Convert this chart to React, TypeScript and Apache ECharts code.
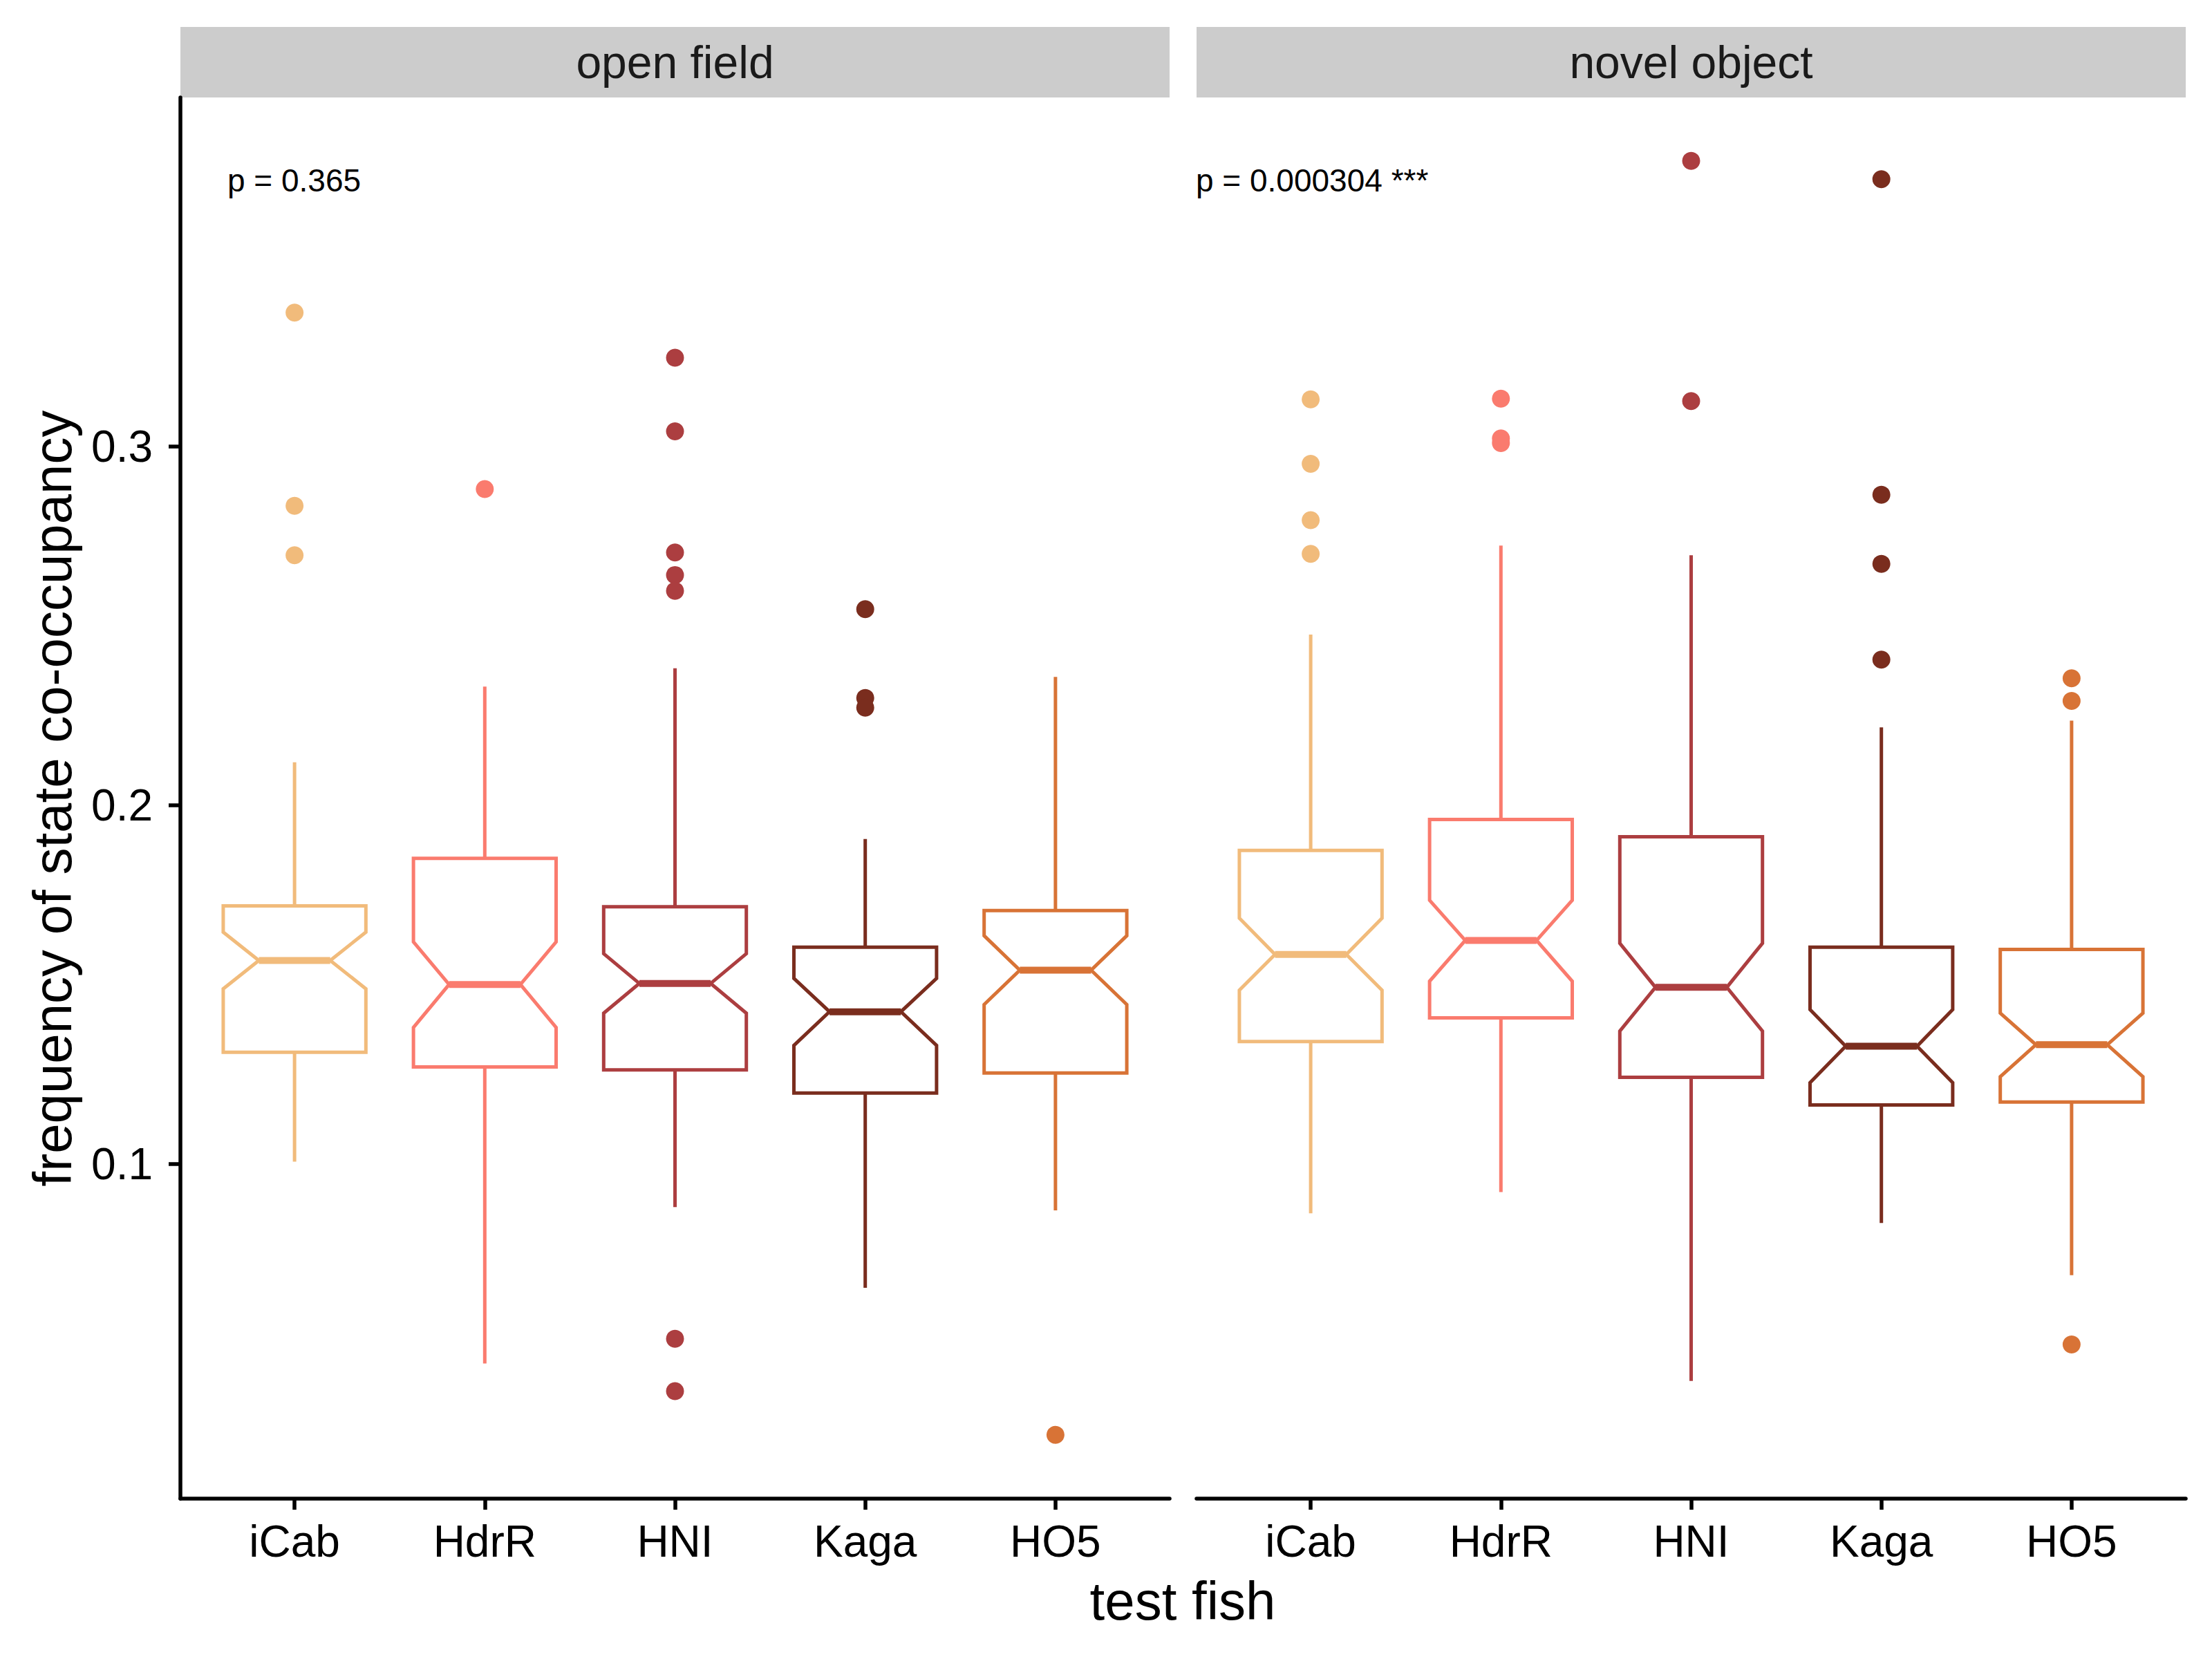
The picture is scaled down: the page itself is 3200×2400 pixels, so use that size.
import React, { useEffect, useRef } from 'react';
import * as echarts from 'echarts';

// ---------- data ----------
const categories = ['iCab', 'HdrR', 'HNI', 'Kaga', 'HO5'];
const colors = ['#F1BB7B', '#FA7B6E', '#AC3E40', '#7A2D1E', '#D87336'];
const panelTitles = ['open field', 'novel object'];
const pValueLabels = ['p = 0.365', 'p = 0.000304 ***'];
const yTickValues = [0.1, 0.2, 0.3];
const xTickValues = [1, 2, 3, 4, 5];

// open field
const openWhiskerLow = [0.1006, 0.0443, 0.0879, 0.0654, 0.0870];
const openQ1 = [0.1311, 0.1270, 0.1262, 0.1197, 0.1253];
const openNotchLow = [0.1488, 0.1380, 0.1420, 0.1330, 0.1444];
const openMedian = [0.1567, 0.1500, 0.1503, 0.1424, 0.1540];
const openNotchHigh = [0.1646, 0.1619, 0.1586, 0.1517, 0.1636];
const openQ3 = [0.1719, 0.1852, 0.1717, 0.1604, 0.1706];
const openWhiskerHigh = [0.2120, 0.2331, 0.2382, 0.1906, 0.2358];
const openOutliers = [
  [0.3374, 0.2835, 0.2697],
  [0.2882],
  [0.3248, 0.3043, 0.2705, 0.2642, 0.2598, 0.0512, 0.0366],
  [0.2547, 0.2299, 0.2272],
  [0.0244],
];

// novel object
const novelWhiskerLow = [0.0862, 0.0921, 0.0394, 0.0835, 0.0689];
const novelQ1 = [0.1341, 0.1407, 0.1241, 0.1164, 0.1172];
const novelNotchLow = [0.1484, 0.1509, 0.1370, 0.1226, 0.1243];
const novelMedian = [0.1584, 0.1623, 0.1492, 0.1328, 0.1332];
const novelNotchHigh = [0.1685, 0.1735, 0.1615, 0.1430, 0.1420];
const novelQ3 = [0.1874, 0.1960, 0.1912, 0.1604, 0.1598];
const novelWhiskerHigh = [0.2476, 0.2724, 0.2697, 0.2217, 0.2236];
const novelOutliers = [
  [0.3132, 0.2952, 0.2795, 0.2701],
  [0.3134, 0.3023, 0.3010],
  [0.3797, 0.3127],
  [0.3746, 0.2866, 0.2673, 0.2406],
  [0.2354, 0.2291, 0.0496],
];

// ---------- layout ----------
const FONT = '"Liberation Sans", Arial, Helvetica, sans-serif';
const Y_MIN = 0.0066;
const Y_MAX = 0.3974;
const GRIDS = [
  { left: 261, top: 141, width: 1431, height: 2027 },
  { left: 1731, top: 141, width: 1431, height: 2027 },
];
const STRIP_TOP = 39;
const STRIP_H = 102;
const BOX_HALF = 0.375;
const NOTCH_HALF = 0.1875;
const LW = 5;

function boxData(wLo: number[], q1: number[], nLo: number[], med: number[], nHi: number[], q3: number[], wHi: number[]) {
  return categories.map((_, i) => [i + 1, wLo[i], q1[i], nLo[i], med[i], nHi[i], q3[i], wHi[i]]);
}

function outlierData(out: number[][]) {
  const d: any[] = [];
  out.forEach((arr, i) =>
    arr.forEach((v) => d.push({ value: [i + 1, v], itemStyle: { color: colors[i], opacity: 1 } }))
  );
  return d;
}

function renderBox(params: any, api: any) {
  const x = api.value(0);
  const wLo = api.value(1);
  const q1 = api.value(2);
  const nLo = api.value(3);
  const med = api.value(4);
  const nHi = api.value(5);
  const q3 = api.value(6);
  const wHi = api.value(7);
  const color = colors[params.dataIndex];
  const p = (dx: number, v: number) => api.coord([x + dx, v]);
  const top = p(0, q3);
  const wt = p(0, wHi);
  const bot = p(0, q1);
  const wb = p(0, wLo);
  const poly = [
    p(-BOX_HALF, q3), p(-BOX_HALF, nHi), p(-NOTCH_HALF, med), p(-BOX_HALF, nLo), p(-BOX_HALF, q1),
    p(BOX_HALF, q1), p(BOX_HALF, nLo), p(NOTCH_HALF, med), p(BOX_HALF, nHi), p(BOX_HALF, q3),
  ];
  const ml = p(-NOTCH_HALF, med);
  const mr = p(NOTCH_HALF, med);
  return {
    type: 'group',
    children: [
      { type: 'line', shape: { x1: top[0], y1: top[1], x2: wt[0], y2: wt[1] }, style: { stroke: color, lineWidth: LW } },
      { type: 'line', shape: { x1: bot[0], y1: bot[1], x2: wb[0], y2: wb[1] }, style: { stroke: color, lineWidth: LW } },
      { type: 'polygon', shape: { points: poly }, style: { fill: '#ffffff', stroke: color, lineWidth: LW, lineJoin: 'miter' } },
      { type: 'line', shape: { x1: ml[0], y1: ml[1], x2: mr[0], y2: mr[1] }, style: { stroke: color, lineWidth: LW * 2 } },
    ],
  };
}

export default function App() {
  const ref = useRef<HTMLDivElement>(null);

  useEffect(() => {
    if (!ref.current) return;
    const chart = echarts.init(ref.current, null, { renderer: 'svg' });

    const xAxes = GRIDS.map((_, gi) => ({
      gridIndex: gi,
      type: 'value',
      min: 0.4,
      max: 5.6,
      axisLine: { show: true, onZero: false, lineStyle: { color: '#000', width: 5.5 } },
      axisTick: { show: true, customValues: xTickValues, length: 16, lineStyle: { color: '#000', width: 5.5 } },
      axisLabel: {
        show: true,
        customValues: xTickValues,
        formatter: (v: number) => categories[Math.round(v) - 1] ?? '',
        margin: 30,
        fontSize: 64,
        color: '#000',
        fontFamily: FONT,
      },
      splitLine: { show: false },
    }));

    const yAxes = GRIDS.map((_, gi) => ({
      gridIndex: gi,
      type: 'value',
      min: Y_MIN,
      max: Y_MAX,
      axisLine: { show: gi === 0, onZero: false, lineStyle: { color: '#000', width: 5.5 } },
      axisTick: { show: gi === 0, customValues: yTickValues, length: 17, lineStyle: { color: '#000', width: 5.5 } },
      axisLabel: {
        show: gi === 0,
        customValues: yTickValues,
        formatter: (v: number) => v.toFixed(1),
        margin: 40,
        fontSize: 64,
        color: '#000',
        fontFamily: FONT,
      },
      splitLine: { show: false },
    }));

    const panelBoxes = [
      boxData(openWhiskerLow, openQ1, openNotchLow, openMedian, openNotchHigh, openQ3, openWhiskerHigh),
      boxData(novelWhiskerLow, novelQ1, novelNotchLow, novelMedian, novelNotchHigh, novelQ3, novelWhiskerHigh),
    ];
    const panelOutliers = [outlierData(openOutliers), outlierData(novelOutliers)];

    const series: any[] = [];
    GRIDS.forEach((_, gi) => {
      series.push({
        type: 'custom',
        xAxisIndex: gi,
        yAxisIndex: gi,
        renderItem: renderBox,
        encode: { x: 0, y: [1, 2, 3, 4, 5, 6, 7] },
        data: panelBoxes[gi],
        silent: true,
        z: 2,
      });
      series.push({
        type: 'scatter',
        xAxisIndex: gi,
        yAxisIndex: gi,
        symbol: 'circle',
        symbolSize: 26,
        itemStyle: { opacity: 1 },
        data: panelOutliers[gi],
        silent: true,
        z: 3,
      });
    });

    const graphic: any[] = [];
    GRIDS.forEach((g, gi) => {
      graphic.push({
        type: 'rect',
        shape: { x: g.left, y: STRIP_TOP, width: g.width, height: STRIP_H },
        style: { fill: '#CCCCCC' },
        silent: true,
      });
      graphic.push({
        type: 'text',
        x: g.left + g.width / 2,
        y: STRIP_TOP + STRIP_H / 2,
        style: { text: panelTitles[gi], fontSize: 66, fontFamily: FONT, fill: '#1a1a1a', align: 'center', verticalAlign: 'middle' },
        silent: true,
      });
    });
    graphic.push({
      type: 'text',
      x: 329,
      y: 261,
      style: { text: pValueLabels[0], fontSize: 46, fontFamily: FONT, fill: '#000', align: 'left', verticalAlign: 'middle' },
      silent: true,
    });
    graphic.push({
      type: 'text',
      x: 1730,
      y: 261,
      style: { text: pValueLabels[1], fontSize: 46, fontFamily: FONT, fill: '#000', align: 'left', verticalAlign: 'middle' },
      silent: true,
    });
    graphic.push({
      type: 'text',
      x: 1711,
      y: 2316,
      style: { text: 'test fish', fontSize: 78, fontFamily: FONT, fill: '#000', align: 'center', verticalAlign: 'middle' },
      silent: true,
    });
    graphic.push({
      type: 'text',
      x: 76,
      y: 1155,
      rotation: Math.PI / 2,
      style: { text: 'frequency of state co-occupancy', fontSize: 78, fontFamily: FONT, fill: '#000', align: 'center', verticalAlign: 'middle' },
      silent: true,
    });

    chart.setOption({
      animation: false,
      backgroundColor: '#ffffff',
      grid: GRIDS.map((g) => ({ ...g, containLabel: false })),
      xAxis: xAxes,
      yAxis: yAxes,
      series,
      graphic,
    });

    return () => chart.dispose();
  }, []);

  return (
    <div
      ref={ref}
      style={{ position: 'fixed', left: 0, top: 0, width: 3200, height: 2400, background: '#fff' }}
    />
  );
}
